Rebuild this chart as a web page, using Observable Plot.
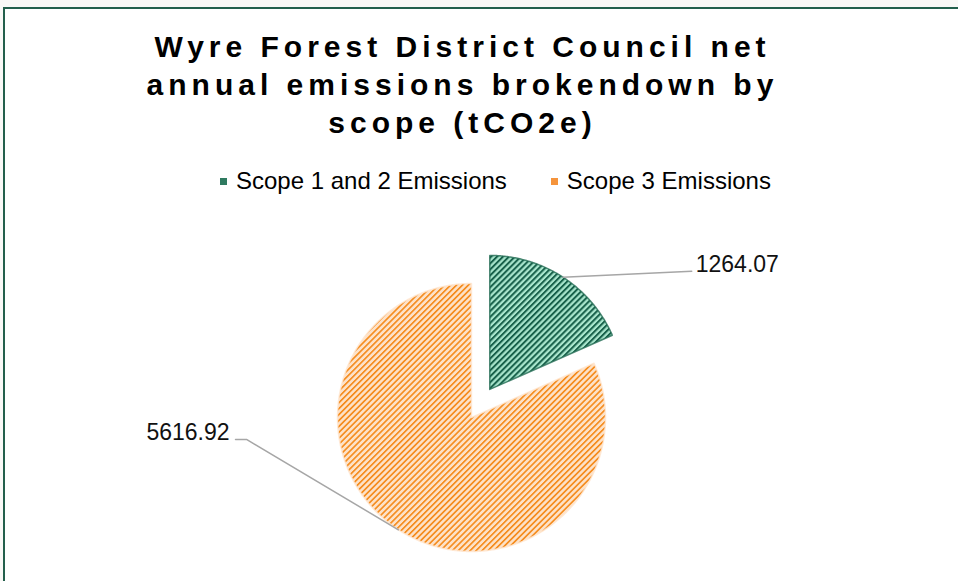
<!DOCTYPE html>
<html>
<head>
<meta charset="utf-8">
<script src="https://cdn.jsdelivr.net/npm/d3@7"></script>
<script src="https://cdn.jsdelivr.net/npm/@observablehq/plot@0.6"></script>
<style>
  html, body { margin: 0; padding: 0; }
  body { width: 958px; height: 581px; overflow: hidden; background: #f9f8f6; position: relative;
         font-family: "Liberation Sans", Arial, sans-serif; }
  #frame { position: absolute; left: 3px; top: 7px; width: 970px; height: 590px; background: #fff;
           border-top: 2px solid #235f4c; border-left: 2px solid #235f4c; }
  #title { position: absolute; top: 27.6px; left: 2.5px; width: 920px; text-align: center;
           font-weight: bold; font-size: 30px; line-height: 38px; letter-spacing: 5px; color: #000; }
  #legend { position: absolute; top: 169px; left: 220px; height: 24px; display: flex; align-items: center;
            font-size: 24px; line-height: 24px; color: #000; white-space: nowrap; }
  .item { display: flex; align-items: center; margin-right: 44px; }
  .sw { width: 7px; height: 7px; margin-right: 9px; }
  #chart { position: absolute; top: 193px; left: 0; }
</style>
</head>
<body>
<div id="frame"></div>
<div id="title">Wyre Forest District Council net<br>annual emissions brokendown by<br>scope (tCO2e)</div>
<div id="legend"></div>
<div id="chart"></div>
<script>
// ---- data ----
const categories = ["Scope 1 and 2 Emissions", "Scope 3 Emissions"];
const values = [1264.07, 5616.92];
const labelTexts = ["1264.07", "5616.92"];

// ---- style / layout config ----
const explode = [0.25, 0];                 // fraction of radius
const patternIds = ["patGreen", "patOrange"];
const swatchColors = ["#2f7a60", "#f5943c"];
const patternColors = [
  {bg: "#a9e6cd", line: "#17604a", rim: "#236b54", lw: 2},
  {bg: "#fde2c8", line: "#f58a1a", rim: "#ffe6cf", lw: 1.6}
];
// label anchor offsets relative to slice centre (radius units): leader path points after the arc midpoint
const leaderOffsets = [
  [[1.507, 0.881]],
  [[-1.679, -0.164], [-1.761, -0.164]]
];

// legend
const legend = document.getElementById("legend");
categories.forEach((c, i) => {
  const it = document.createElement("div");
  it.className = "item";
  it.innerHTML = `<span class="sw" style="background:${swatchColors[i]}"></span><span>${c}</span>`;
  legend.appendChild(it);
});

// pie geometry
const arcs = d3.pie().sort(null).startAngle(0).endAngle(2 * Math.PI)(values);
const slices = arcs.map((a, i) => {
  const mid = (a.startAngle + a.endAngle) / 2;
  const cx = explode[i] * Math.sin(mid), cy = explode[i] * Math.cos(mid);
  const pts = [{x: cx, y: cy}];
  const n = Math.max(8, Math.ceil((a.endAngle - a.startAngle) / (Math.PI / 360)));
  for (let k = 0; k <= n; k++) {
    const t = a.startAngle + (a.endAngle - a.startAngle) * k / n;
    pts.push({x: cx + Math.sin(t), y: cy + Math.cos(t)});
  }
  pts.push({x: cx, y: cy});
  const leader = [{x: cx + Math.sin(mid), y: cy + Math.cos(mid)}]
    .concat(leaderOffsets[i].map(([dx, dy]) => ({x: cx + dx, y: cy + dy})));
  return {i, pts, leader, end: leader[leader.length - 1], label: labelTexts[i]};
});

const W = 958, H = 388, R = 134, CX = 471, CY = 224;
const chart = Plot.plot({
  width: W, height: H, margin: 0,
  x: {domain: [-CX / R, (W - CX) / R], range: [0, W], axis: null},
  y: {domain: [-(H - CY) / R, CY / R], range: [H, 0], axis: null},
  style: {background: "transparent", overflow: "visible"},
  marks: [
    ...slices.map(s => Plot.line(s.pts, {x: "x", y: "y", curve: "linear",
      fill: `url(#${patternIds[s.i]})`, stroke: patternColors[s.i].rim, strokeWidth: 1.5, strokeOpacity: 0.8})),
    ...slices.map(s => Plot.line(s.leader, {x: "x", y: "y", curve: "linear", stroke: "#a6a6a6", strokeWidth: 1.5})),
    Plot.text([slices[0]], {x: d => d.end.x, y: d => d.end.y, text: "label", textAnchor: "start",
      dx: 4, dy: -7, fontSize: 23, fill: "#111", fontFamily: "Liberation Sans, Arial, sans-serif"}),
    Plot.text([slices[1]], {x: d => d.end.x, y: d => d.end.y, text: "label", textAnchor: "end",
      dx: -6, dy: -7, fontSize: 23, fill: "#111", fontFamily: "Liberation Sans, Arial, sans-serif"})
  ]
});

// patterns
const svg = d3.select(chart);
const defs = svg.insert("defs", ":first-child");
patternIds.forEach((id, i) => {
  const p = defs.append("pattern").attr("id", id).attr("patternUnits", "userSpaceOnUse")
    .attr("width", 4.2).attr("height", 4.2).attr("patternTransform", "rotate(45)");
  p.append("rect").attr("width", 4.2).attr("height", 4.2).attr("fill", patternColors[i].bg);
  p.append("rect").attr("x", 0).attr("width", patternColors[i].lw).attr("height", 4.2).attr("fill", patternColors[i].line);
});
document.getElementById("chart").appendChild(chart);
</script>
</body>
</html>
